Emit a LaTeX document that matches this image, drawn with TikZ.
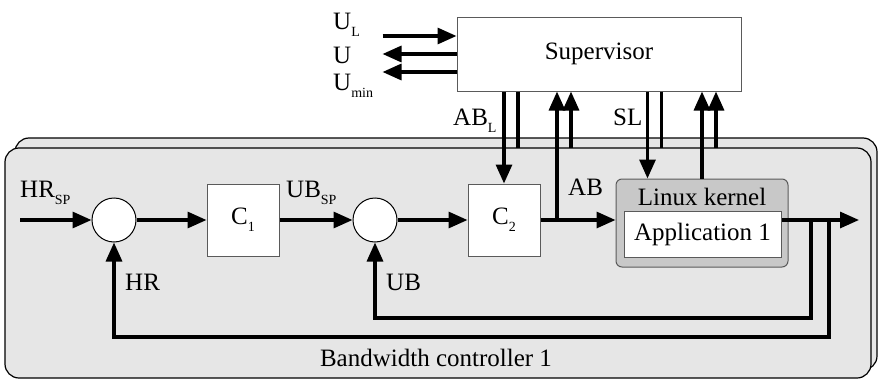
\documentclass[tikz,border=0pt]{standalone}
\usepackage{fontspec}
\setmainfont{LiberationSerif}[Extension=.ttf, UprightFont=*-Regular, BoldFont=*-Bold]
\usetikzlibrary{positioning,arrows.meta,calc}
\definecolor{panelgray}{RGB}{230,230,230}
\definecolor{kernelgray}{RGB}{200,200,200}
\definecolor{edgegray}{RGB}{90,90,90}
\newcommand{\lowsub}[2]{#1\raisebox{-0.28em}{\fontsize{14}{14}\selectfont #2}}
\tikzset{
  blockbox/.style={draw=edgegray, line width=1pt, fill=white, minimum width=72pt, minimum height=72pt, inner sep=0pt},
  sumnode/.style={circle, draw=black, line width=1pt, fill=white, minimum size=44pt, inner sep=0pt},
  sig/.style={line width=3.2pt, -{Triangle[length=19pt,width=16pt]}},
  wire/.style={line width=3.2pt},
  sigtxt/.style={anchor=base west, inner sep=0pt},
  panel/.style={rounded corners=14pt, draw=black, line width=1.2pt, fill=panelgray}
}

\begin{document}
\begin{tikzpicture}[x=1pt, y=-1pt, font=\rmfamily\fontsize{25}{30}\selectfont]
  \useasboundingbox (0,0) rectangle (878,380);
  % controller panels, the second one sits behind
  \draw[panel] (15,138) rectangle (877,370);
  \draw[panel] (5,148) rectangle (871,378);
  \coordinate (pnl) at (5,148);

  \node[draw=edgegray, line width=1pt, fill=white, minimum width=284pt, minimum height=74pt] (sup) at (599,54) {Supervisor};
  \node[sumnode] (sum1) at (114,220) {};
  \node[blockbox] (c1) at (243,220) {\lowsub{C}{1}};
  \node[sumnode] (sum2) at (375,220) {};
  \node[blockbox] (c2) at (504,220) {\lowsub{C}{2}};
  \node[draw=edgegray, line width=1pt, fill=kernelgray, rounded corners=6pt, minimum width=172pt, minimum height=88pt] (kern) at (702,223) {};
  \node[anchor=base, inner sep=0pt] (kerntxt) at (702,205) {Linux kernel};
  \node[draw=edgegray, line width=1pt, fill=white, minimum width=157pt, minimum height=46pt, inner sep=0pt] (app) at (702.5,234) {Application 1};

  \coordinate (hrin) at (20,220);
  \coordinate (abj) at (557,220);
  \coordinate (out) at (859,220);
  \coordinate (tap1) at (811,220);
  \coordinate (tap2) at (829,220);
  \coordinate (slin) at ($(kern.north west)+(32,0)$);

  % forward path
  \draw[sig] (hrin) -- (sum1);
  \draw[sig] (sum1) -- (c1);
  \draw[sig] (c1) -- (sum2);
  \draw[sig] (sum2) -- (c2);
  \draw[sig] (c2) -- (c2 -| kern.west);
  \draw[sig] (app.east |- out) -- (out);

  % feedback
  \draw[sig] (tap1) -- ++(0,98) -| (sum2.south);
  \draw[sig] (tap2) -- ++(0,117) -| (sum1.south);

  % to and from the supervisor
  \draw[sig] (abj) -- (abj |- sup.south);
  \draw[sig] (sup.south -| c2.north) -- (c2.north);
  \draw[sig] (sup.south -| slin) -- (slin);
  \draw[sig] (kern.north) -- (kern.north |- sup.south);
  \foreach \x in {c2.north, slin}
    \draw[wire] ($(sup.south -| \x)+(14,0)$) -- ($(pnl -| \x)+(14,0)$);
  \foreach \x in {abj, kern.north}
    \draw[sig] ($(pnl -| \x)+(14,0)$) -- ($(sup.south -| \x)+(14,0)$);

  \coordinate (ulin) at ($(sup.west)+(-74,-18)$);
  \coordinate (uout) at ($(sup.west)+(-74,0)$);
  \coordinate (umin) at ($(sup.west)+(-74,18)$);
  \draw[sig] (ulin) -- (ulin -| sup.west);
  \draw[sig] (uout -| sup.west) -- (uout);
  \draw[sig] (umin -| sup.west) -- (umin);

  % labels
  \node[sigtxt] (ul) at (333,29) {\lowsub{U}{L}};
  \node[sigtxt] (u) at (333,63) {U};
  \node[sigtxt] (um) at (333,90) {\lowsub{U}{min}};
  \node[sigtxt] (hrsp) at (20,197) {\lowsub{HR}{SP}};
  \node[sigtxt] (ubsp) at (286,197) {\lowsub{UB}{SP}};
  \node[sigtxt] (hr) at (125,290) {HR};
  \node[sigtxt] (ub) at (386,290) {UB};
  \node[sigtxt] (abl) at (453,125) {\lowsub{AB}{L}};
  \node[sigtxt] (ab) at (568,195) {AB};
  \node[sigtxt] (sl) at (613,125) {SL};
  \node[anchor=base, inner sep=0pt] (title) at (436,366) {Bandwidth controller 1};
\end{tikzpicture}
\end{document}
